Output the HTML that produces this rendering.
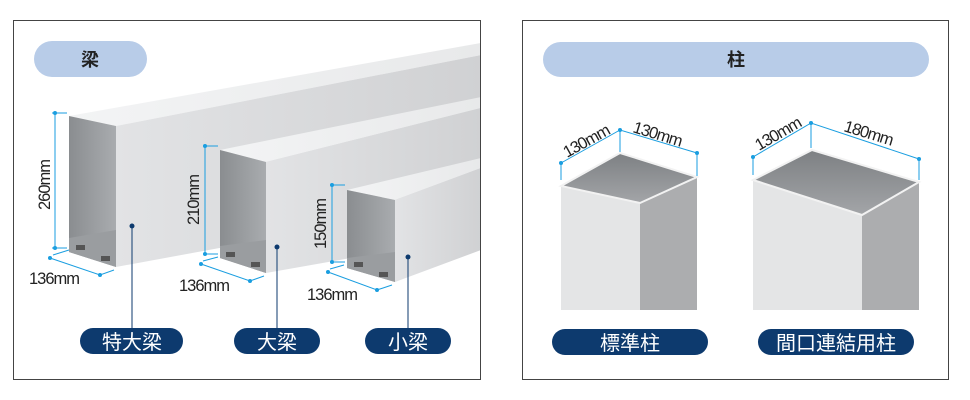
<!DOCTYPE html>
<html><head><meta charset="utf-8"><style>
html,body{margin:0;padding:0;background:#fff;}
svg{display:block;}
text{font-family:"Liberation Sans","Noto Sans CJK JP",sans-serif;}
</style></head><body>
<svg width="970" height="400" viewBox="0 0 970 400" xmlns="http://www.w3.org/2000/svg">
<defs>
<linearGradient id="inn" x1="0" y1="0" x2="1" y2="0"><stop offset="0" stop-color="#8a8d90"/><stop offset="1" stop-color="#a9acaf"/></linearGradient>
<linearGradient id="side" x1="0" y1="0" x2="1" y2="0"><stop offset="0" stop-color="#e2e3e5"/><stop offset="1" stop-color="#d0d1d3"/></linearGradient>
<linearGradient id="top" x1="0" y1="0" x2="1" y2="0"><stop offset="0" stop-color="#f3f4f5"/><stop offset="1" stop-color="#e8e9ea"/></linearGradient>
<linearGradient id="cin" x1="0" y1="0" x2="0" y2="1"><stop offset="0" stop-color="#7d8083"/><stop offset="1" stop-color="#a3a5a8"/></linearGradient>
</defs>
<rect x="13.5" y="20.5" width="467" height="359" fill="#fff" stroke="#444" stroke-width="1"/>
<rect x="522.5" y="20.5" width="426" height="359" fill="#fff" stroke="#444" stroke-width="1"/>
<rect x="34" y="41" width="113" height="36" rx="18" fill="#b8cce8"/>
<text x="90" y="66" font-size="18" text-anchor="middle" font-weight="bold" fill="#222">梁</text>
<rect x="543" y="42" width="386" height="35" rx="17.5" fill="#b8cce8"/>
<text x="736" y="66" font-size="18" text-anchor="middle" font-weight="bold" fill="#222">柱</text>

<clipPath id="clipL"><rect x="14" y="21" width="466" height="358"/></clipPath>
<g clip-path="url(#clipL)">
<polygon points="69,116 481,43 481,55 116,126" fill="url(#top)"/>
<polygon points="116,126 481,55 481,200 116,267" fill="url(#side)"/>
<polygon points="69,116 116,126 116,267 69,252" fill="url(#inn)"/>
<polygon points="69,238 116,230 116,267 69,252" fill="#9a9da0"/>
<polygon points="220,150 481,97 481,108 266,162" fill="url(#top)"/>
<polygon points="266,162 481,108 481,235 266,273" fill="url(#side)"/>
<polygon points="220,150 266,162 266,273 220,258" fill="url(#inn)"/>
<polygon points="220,246 266,240 266,273 220,258" fill="#9a9da0"/>
<polygon points="347,190 481,158 481,168 395,200" fill="url(#top)"/>
<polygon points="395,200 481,168 481,250 395,282" fill="url(#side)"/>
<polygon points="347,190 395,200 395,282 347,268" fill="url(#inn)"/>
<polygon points="347,258 395,252 395,282 347,268" fill="#9a9da0"/>
</g>
<g fill="#555">
<rect x="76" y="245" width="9" height="5"/><rect x="101" y="256" width="9" height="5"/>
<rect x="226" y="252" width="9" height="5"/><rect x="251" y="262" width="9" height="5"/>
<rect x="354" y="262" width="9" height="5"/><rect x="379" y="272" width="9" height="5"/>
</g>

<g stroke="#1a9ee0" stroke-width="1" fill="none">
<path d="M52,113 H67 M55,113 V248 M52,248 H67 M53,255 L69,250 M50,258 L100,275 L114,270"/>
<path d="M203,146 H218 M205,146 V254 M203,254 H218 M201,264 L250,281 L264,276 M203,261 L218,257"/>
<path d="M330,185 H345 M332,185 V262 M330,262 H345 M328,272 L377,290 L392,285 M330,269 L344,265"/>
</g>
<g fill="#1a9ee0">
<circle cx="55" cy="113" r="2"/><circle cx="55" cy="248" r="2"/><circle cx="50" cy="258" r="2"/><circle cx="100" cy="275" r="2"/>
<circle cx="205" cy="146" r="2"/><circle cx="205" cy="254" r="2"/><circle cx="201" cy="264" r="2"/><circle cx="250" cy="281" r="2"/>
<circle cx="332" cy="185" r="2"/><circle cx="332" cy="262" r="2"/><circle cx="328" cy="272" r="2"/><circle cx="377" cy="290" r="2"/>
</g>
<g font-size="16.5" fill="#222" letter-spacing="-1">
<text transform="translate(50,185) rotate(-90)" text-anchor="middle">260mm</text>
<text transform="translate(199,200) rotate(-90)" text-anchor="middle">210mm</text>
<text transform="translate(326,224) rotate(-90)" text-anchor="middle">150mm</text>
<text x="29" y="284">136mm</text>
<text x="179" y="291">136mm</text>
<text x="307" y="300">136mm</text>
</g>
<g stroke="#0d3a6e" stroke-width="1">
<line x1="132" y1="226" x2="132" y2="330"/><line x1="277" y1="247" x2="277" y2="330"/><line x1="408" y1="257" x2="408" y2="330"/>
</g>
<g fill="#0d3a6e">
<circle cx="132" cy="226" r="2.5"/><circle cx="277" cy="247" r="2.5"/><circle cx="408" cy="257" r="2.5"/>
<rect x="80" y="328" width="103" height="26" rx="13"/>
<rect x="234" y="328" width="86" height="26" rx="13"/>
<rect x="365" y="328" width="86" height="26" rx="13"/>
<rect x="552" y="329" width="156" height="26" rx="13"/>
<rect x="758" y="329" width="156" height="26" rx="13"/>
</g>
<g fill="#fff" font-size="20" text-anchor="middle">
<text x="132" y="349">特大梁</text><text x="277" y="349">大梁</text><text x="408" y="349">小梁</text>
<text x="630" y="350">標準柱</text><text x="836" y="350">間口連結用柱</text>
</g>

<polygon points="561,186 640,203 640,310 561,310" fill="#e4e5e6"/>
<polygon points="640,203 697,177 697,310 640,310" fill="#acadaf"/>
<polygon points="561,186 620,153 697,177 640,203" fill="url(#cin)" stroke="#f2f2f2" stroke-width="2"/>
<polygon points="753,180 862,215 862,310 753,310" fill="#e4e5e6"/>
<polygon points="862,215 919,182 919,310 862,310" fill="#acadaf"/>
<polygon points="753,180 812,150 919,182 862,215" fill="url(#cin)" stroke="#f2f2f2" stroke-width="2"/>
<g stroke="#1a9ee0" stroke-width="1" fill="none">
<path d="M561,163 L620,130 L697,153 M561,163 V180 M620,130 V152 M697,153 V176"/>
<path d="M753,157 L811,123 L919,159 M753,157 V175 M811,123 V148 M919,159 V180"/>
</g>
<g fill="#1a9ee0">
<circle cx="561" cy="163" r="2"/><circle cx="620" cy="130" r="2"/><circle cx="697" cy="153" r="2"/>
<circle cx="753" cy="157" r="2"/><circle cx="811" cy="123" r="2"/><circle cx="919" cy="159" r="2"/>
</g>
<g font-size="16.5" fill="#222" letter-spacing="-1">
<text transform="translate(567,158) rotate(-29)">130mm</text>
<text transform="translate(632,132) rotate(17)">130mm</text>
<text transform="translate(759,151) rotate(-30)">130mm</text>
<text transform="translate(843,131) rotate(17)">180mm</text>
</g>
</svg>
</body></html>
